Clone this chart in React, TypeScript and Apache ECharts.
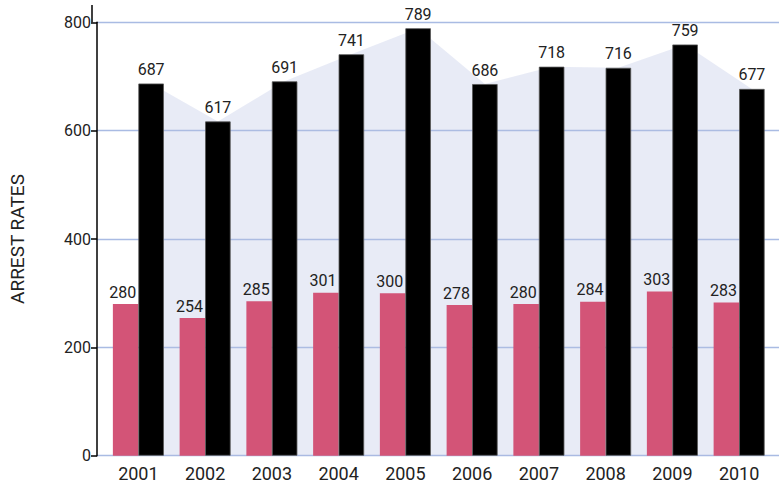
import React, { useEffect, useRef } from "react";
import * as echarts from "echarts";

const years = ["2001", "2002", "2003", "2004", "2005", "2006", "2007", "2008", "2009", "2010"];
const pinkValues = [280, 254, 285, 301, 300, 278, 280, 284, 303, 283];
const blackValues = [687, 617, 691, 741, 789, 686, 718, 716, 759, 677];
const yTicks = [0, 200, 400, 600, 800];

const FONT = "Roboto, 'DejaVu Sans', sans-serif";

export default function App() {
  const ref = useRef<HTMLDivElement>(null);
  useEffect(() => {
    if (!ref.current) return;
    const chart = echarts.init(ref.current, null, { renderer: "svg" });
    const top = 22.3;
    const bottom = 27.3;
    const barShare = 0.191; // black bar centre offset in category units
    chart.setOption({
      animation: false,
      grid: [
        { left: 105, right: 6.5, top, bottom, containLabel: false },
        { left: 92, right: 0, top, bottom, containLabel: false },
      ],
      xAxis: [
        {
          type: "category",
          gridIndex: 0,
          data: years,
          axisLine: { show: false },
          axisTick: { show: false },
          axisLabel: { color: "#222", fontSize: 18, fontFamily: FONT, margin: 9 },
        },
        { type: "value", gridIndex: 0, min: -0.5, max: 9.5, show: false },
        { type: "value", gridIndex: 1, min: 0, max: 1, show: false },
      ],
      yAxis: [
        { type: "value", gridIndex: 0, min: 0, max: 800, interval: 200, show: false },
        {
          type: "value",
          gridIndex: 1,
          min: yTicks[0],
          max: yTicks[yTicks.length - 1],
          interval: 200,
          name: "ARREST RATES",
          nameLocation: "middle",
          nameGap: 70,
          nameTextStyle: { color: "#222", fontSize: 19, fontFamily: FONT },
          axisLine: { show: true, lineStyle: { color: "#000", width: 1.5 } },
          axisTick: { show: true, length: 6, lineStyle: { color: "#000", width: 1.5 } },
          axisLabel: { color: "#222", fontSize: 16, fontFamily: FONT, margin: 6 },
          splitLine: { show: true, lineStyle: { color: "#a9bbe3", width: 1.3 } },
        },
      ],
      graphic: [
        {
          type: "line",
          shape: { x1: 92, y1: 5, x2: 92, y2: top },
          style: { stroke: "#000", lineWidth: 1.5 },
        },
      ],
      series: [
        {
          type: "line",
          xAxisIndex: 1,
          yAxisIndex: 0,
          data: blackValues.map((v, i) => [i + barShare, v]),
          symbol: "none",
          lineStyle: { width: 0 },
          areaStyle: { color: "rgba(180,190,225,0.307)", opacity: 1 },
          z: 1,
          silent: true,
        },
        {
          type: "bar",
          xAxisIndex: 0,
          yAxisIndex: 0,
          data: pinkValues,
          barGap: "0%",
          barCategoryGap: "23.6%",
          itemStyle: { color: "#d35477" },
          label: { show: true, position: "top", distance: 4, offset: [-3, 0], color: "#222", fontSize: 16, fontFamily: FONT },
          z: 3,
        },
        {
          type: "bar",
          xAxisIndex: 0,
          yAxisIndex: 0,
          data: blackValues,
          barGap: "0%",
          barCategoryGap: "23.6%",
          itemStyle: { color: "#000", borderColor: "#555", borderWidth: 0.8 },
          label: { show: true, position: "top", distance: 6, color: "#222", fontSize: 16, fontFamily: FONT },
          z: 3,
        },
      ],
    });
    return () => chart.dispose();
  }, []);
  return <div ref={ref} style={{ width: 779, height: 483, position: "absolute", left: 0, top: 0 }} />;
}
